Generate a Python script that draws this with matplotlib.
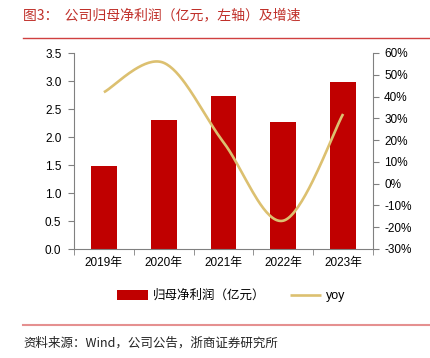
import numpy as np
import matplotlib
matplotlib.use("Agg")
import matplotlib.pyplot as plt
from matplotlib.ticker import FixedLocator, FuncFormatter

plt.rcParams['font.family'] = ['Liberation Sans', 'Noto Sans CJK SC', 'DejaVu Sans']

years = ["2019年", "2020年", "2021年", "2022年", "2023年"]
profit = [1.48, 2.30, 2.73, 2.27, 2.98]
yoy = [42.0, 55.5, 19.0, -17.0, 32.0]

title = "图3：  公司归母净利润（亿元，左轴）及增速"
source = "资料来源：Wind，公司公告，浙商证券研究所"
bar_label = "归母净利润（亿元）"
line_label = "yoy"

W, H = 431, 358
fig = plt.figure(figsize=(W/100, H/100), dpi=100)

ax = fig.add_axes([74/W, 1-249/H, (373-74)/W, (249-53)/H])
x = np.arange(len(years))
bars = ax.bar(x, profit, width=0.43, color='#C00000', label=bar_label, zorder=2)
ax.set_xlim(-0.5, len(years)-0.5)
ax.set_ylim(0, 3.5)
ax.set_yticks(np.arange(0, 3.51, 0.5))
ax.yaxis.set_major_formatter(FuncFormatter(lambda v, p: f"{v:.1f}"))
ax.set_xticks(x)
ax.set_xticklabels(years)
ax.xaxis.set_minor_locator(FixedLocator(np.arange(-0.5, len(years), 1.0)))
ax.tick_params(axis='x', which='major', length=0, pad=6, labelsize=8.5)
ax.tick_params(axis='x', which='minor', length=4, color='#808080', direction='out')
ax.tick_params(axis='y', length=4, color='#808080', direction='out', labelsize=8.5, pad=5)
for s in ['top', 'right']:
    ax.spines[s].set_visible(False)
for s in ['left', 'bottom']:
    ax.spines[s].set_color('#808080')

ax2 = ax.twinx()
# Catmull-Rom smoothing (Excel-like)
px = x.astype(float)
py = np.array(yoy, dtype=float)
pts = np.column_stack([px, py])
curve = []
n = len(pts)
for i in range(n-1):
    p0 = pts[i-1] if i > 0 else pts[i]
    p1 = pts[i]
    p2 = pts[i+1]
    p3 = pts[i+2] if i+2 < n else pts[i+1]
    c1 = p1 + (p2 - p0)/6
    c2 = p2 - (p3 - p1)/6
    t = np.linspace(0, 1, 40)[:, None]
    seg = (1-t)**3*p1 + 3*(1-t)**2*t*c1 + 3*(1-t)*t**2*c2 + t**3*p2
    curve.append(seg if i == 0 else seg[1:])
curve = np.vstack(curve)
ax2.plot(curve[:, 0], curve[:, 1], color='#DCC070', lw=1.9, label=line_label, zorder=3,
         solid_capstyle='butt')
ax2.set_ylim(-30, 60)
ax2.set_yticks(np.arange(-30, 61, 10))
ax2.yaxis.set_major_formatter(FuncFormatter(lambda v, p: f"{v:.0f}%"))
ax2.tick_params(axis='y', length=4, color='#808080', direction='out', labelsize=8.5, pad=4)
for s in ['top', 'left', 'bottom']:
    ax2.spines[s].set_visible(False)
ax2.spines['right'].set_color('#808080')

h1, l1 = ax.get_legend_handles_labels()
h2, l2 = ax2.get_legend_handles_labels()
fig.legend(h1 + h2, l1 + l2, loc='center', bbox_to_anchor=(231/W, 1-296/H), ncol=2,
           frameon=False, fontsize=9, handlelength=2.5, handleheight=0.85,
           columnspacing=2.0, handletextpad=0.35)

fig.text(23/W, 1-15/H, title, color='#C0302A', fontsize=10,
         family=['Noto Sans CJK SC', 'DejaVu Sans'], va='center', ha='left')
fig.add_artist(plt.Line2D([23/W, 1.0], [1-38/H, 1-38/H], color='#D04040', lw=1.0))
fig.add_artist(plt.Line2D([23/W, 1.0], [1-325/H, 1-325/H], color='#E59090', lw=1.5))
fig.text(23/W, 1-343/H, source, color='#222222', fontsize=9,
         family=['Noto Sans CJK SC', 'DejaVu Sans'], va='center', ha='left')

fig.savefig("out.png", dpi=100)
